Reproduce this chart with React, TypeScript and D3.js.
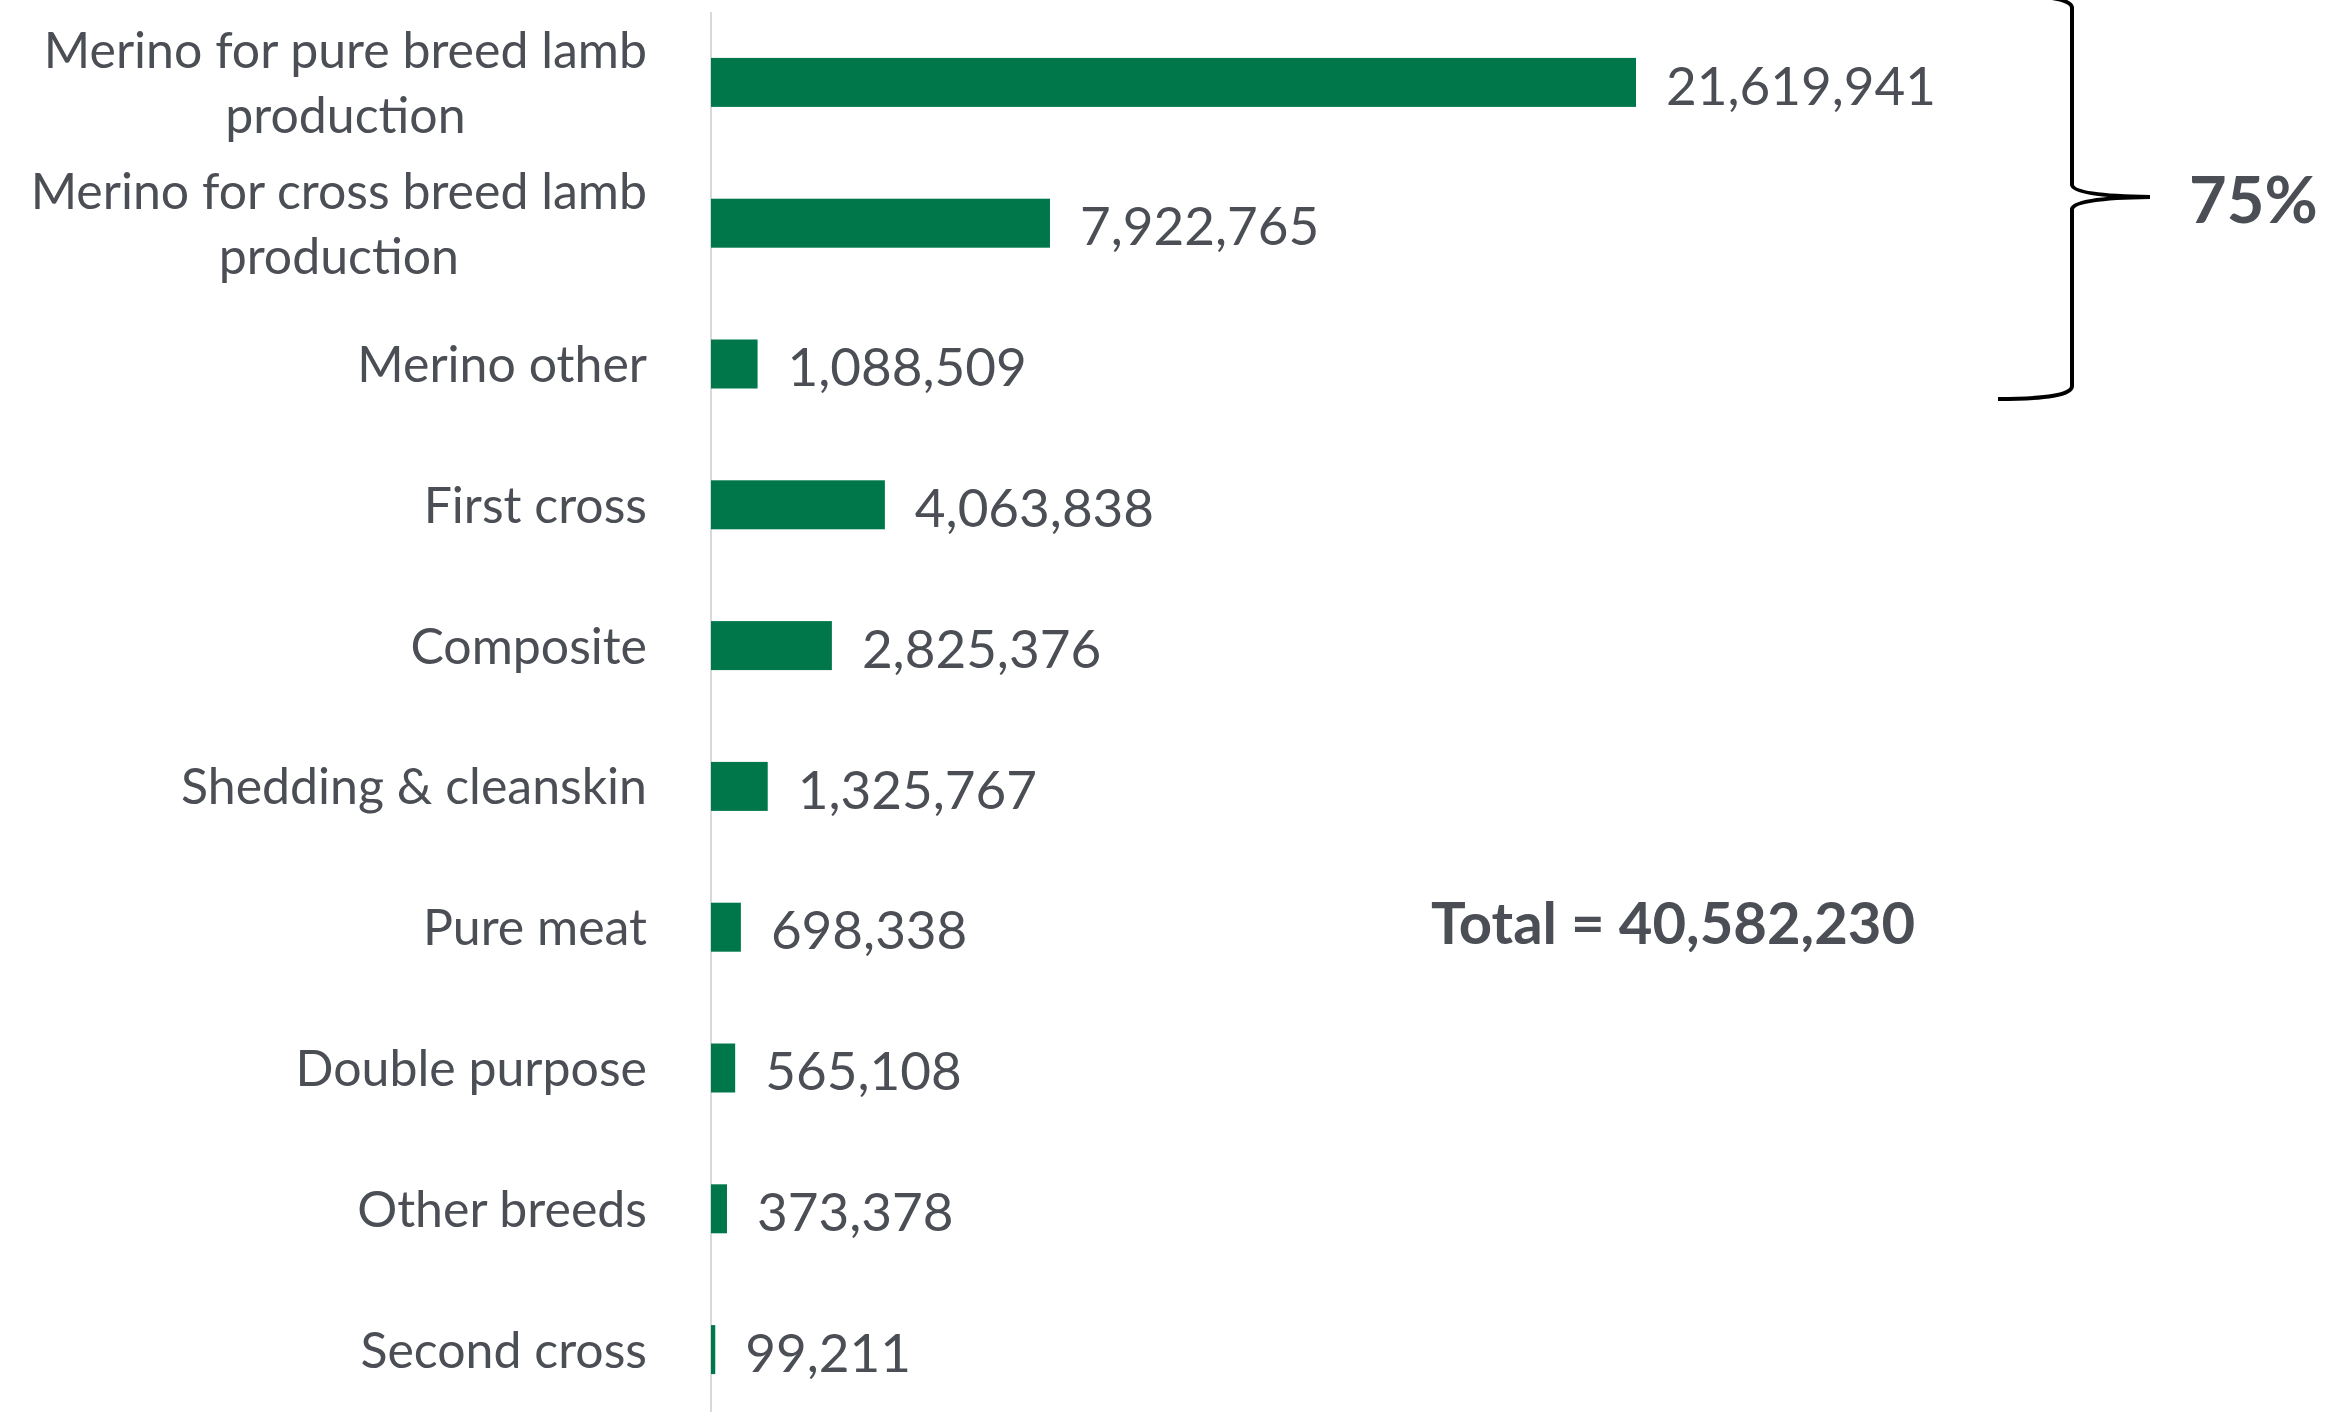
import React, { useEffect, useRef } from "react";
import * as d3 from "d3";

const categories = [
  "Merino for pure breed lamb production",
  "Merino for cross breed lamb production",
  "Merino other",
  "First cross",
  "Composite",
  "Shedding & cleanskin",
  "Pure meat",
  "Double purpose",
  "Other breeds",
  "Second cross",
];
// category labels as they wrap in the chart
const labelLines = [
  ["Merino for pure breed lamb", "production"],
  ["Merino for cross breed lamb", "production"],
  ["Merino other"],
  ["First cross"],
  ["Composite"],
  ["Shedding & cleanskin"],
  ["Pure meat"],
  ["Double purpose"],
  ["Other breeds"],
  ["Second cross"],
];
const values = [21619941, 7922765, 1088509, 4063838, 2825376, 1325767, 698338, 565108, 373378, 99211];
const totalLabel = "Total = 40,582,230";
const merinoShare = "75%";

const W = 2326;
const H = 1412;
const FONT = "Lato, 'Open Sans', sans-serif";
const TEXT = "#4b4f55";
const GREEN = "#00774a";

export default function App() {
  const ref = useRef<SVGSVGElement>(null);

  useEffect(() => {
    const svg = d3.select(ref.current);
    svg.selectAll("*").remove();

    const x0 = 711;
    const x = d3.scaleLinear().domain([0, 21619941]).range([x0, 1636]);
    const y = d3.scaleBand().domain(categories).range([12, 1420]).paddingInner(0.652).paddingOuter(0.326);

    // axis line
    svg.append("line")
      .attr("x1", x0).attr("x2", x0)
      .attr("y1", 12).attr("y2", H)
      .attr("stroke", "#d9d9d9").attr("stroke-width", 2);

    svg.selectAll(".bar")
      .data(values)
      .join("rect")
      .attr("class", "bar")
      .attr("x", x0)
      .attr("y", (d, i) => y(categories[i]) as number)
      .attr("width", d => x(d) - x0)
      .attr("height", y.bandwidth())
      .attr("fill", GREEN);

    svg.selectAll(".val")
      .data(values)
      .join("text")
      .attr("class", "val")
      .attr("x", d => x(d) + 30)
      .attr("y", (d, i) => (y(categories[i]) as number) + y.bandwidth() / 2)
      .attr("dy", "0.42em")
      .attr("font-family", FONT)
      .attr("font-size", 53)
      .attr("fill", TEXT)
      .text(d => d3.format(",")(d));

    // category labels, wrapped ones centred under the first line
    const labelRight = 647;
    const lineGap = 65;
    labelLines.forEach((lines, i) => {
      const cy = (y(categories[i]) as number) + y.bandwidth() / 2;
      const g = svg.append("g");
      const first = g.append("text")
        .attr("x", labelRight)
        .attr("y", cy - ((lines.length - 1) * lineGap) / 2)
        .attr("dy", "0.36em")
        .attr("text-anchor", "end")
        .attr("font-family", FONT)
        .attr("font-size", 50)
        .attr("fill", TEXT)
        .text(lines[0]);
      if (lines.length > 1) {
        const w = (first.node() as SVGTextElement).getComputedTextLength();
        lines.slice(1).forEach((ln, k) => {
          g.append("text")
            .attr("x", labelRight - w / 2)
            .attr("y", cy - ((lines.length - 1) * lineGap) / 2 + (k + 1) * lineGap)
            .attr("dy", "0.36em")
            .attr("text-anchor", "middle")
            .attr("font-family", FONT)
            .attr("font-size", 50)
            .attr("fill", TEXT)
            .text(ln);
        });
      }
    });

    // brace around the merino rows
    const bx = 2072, top = -5, bot = 399, mid = (top + bot) / 2;
    svg.append("path")
      .attr("d", `M1998,${top} Q2072,${top} ${bx},${top + 13} L${bx},${mid - 12} Q${bx + 2},${mid - 1} 2150,${mid} Q${bx + 2},${mid + 1} ${bx},${mid + 12} L${bx},${bot - 13} Q2072,${bot} 1998,${bot}`)
      .attr("fill", "none")
      .attr("stroke", "#000")
      .attr("stroke-width", 4);

    svg.append("text")
      .attr("x", 2189).attr("y", 200).attr("dy", "0.36em")
      .attr("font-family", FONT).attr("font-weight", "bold")
      .attr("font-size", 65).attr("fill", TEXT)
      .text(merinoShare);

    svg.append("text")
      .attr("x", 1431).attr("y", 923).attr("dy", "0.36em")
      .attr("font-family", FONT).attr("font-weight", "bold")
      .attr("font-size", 58).attr("fill", TEXT)
      .text(totalLabel);
  }, []);

  return (
    <div style={{ position: "absolute", left: 0, top: 0 }}>
      <svg ref={ref} width={W} height={H} style={{ display: "block", background: "#fff" }} />
    </div>
  );
}
